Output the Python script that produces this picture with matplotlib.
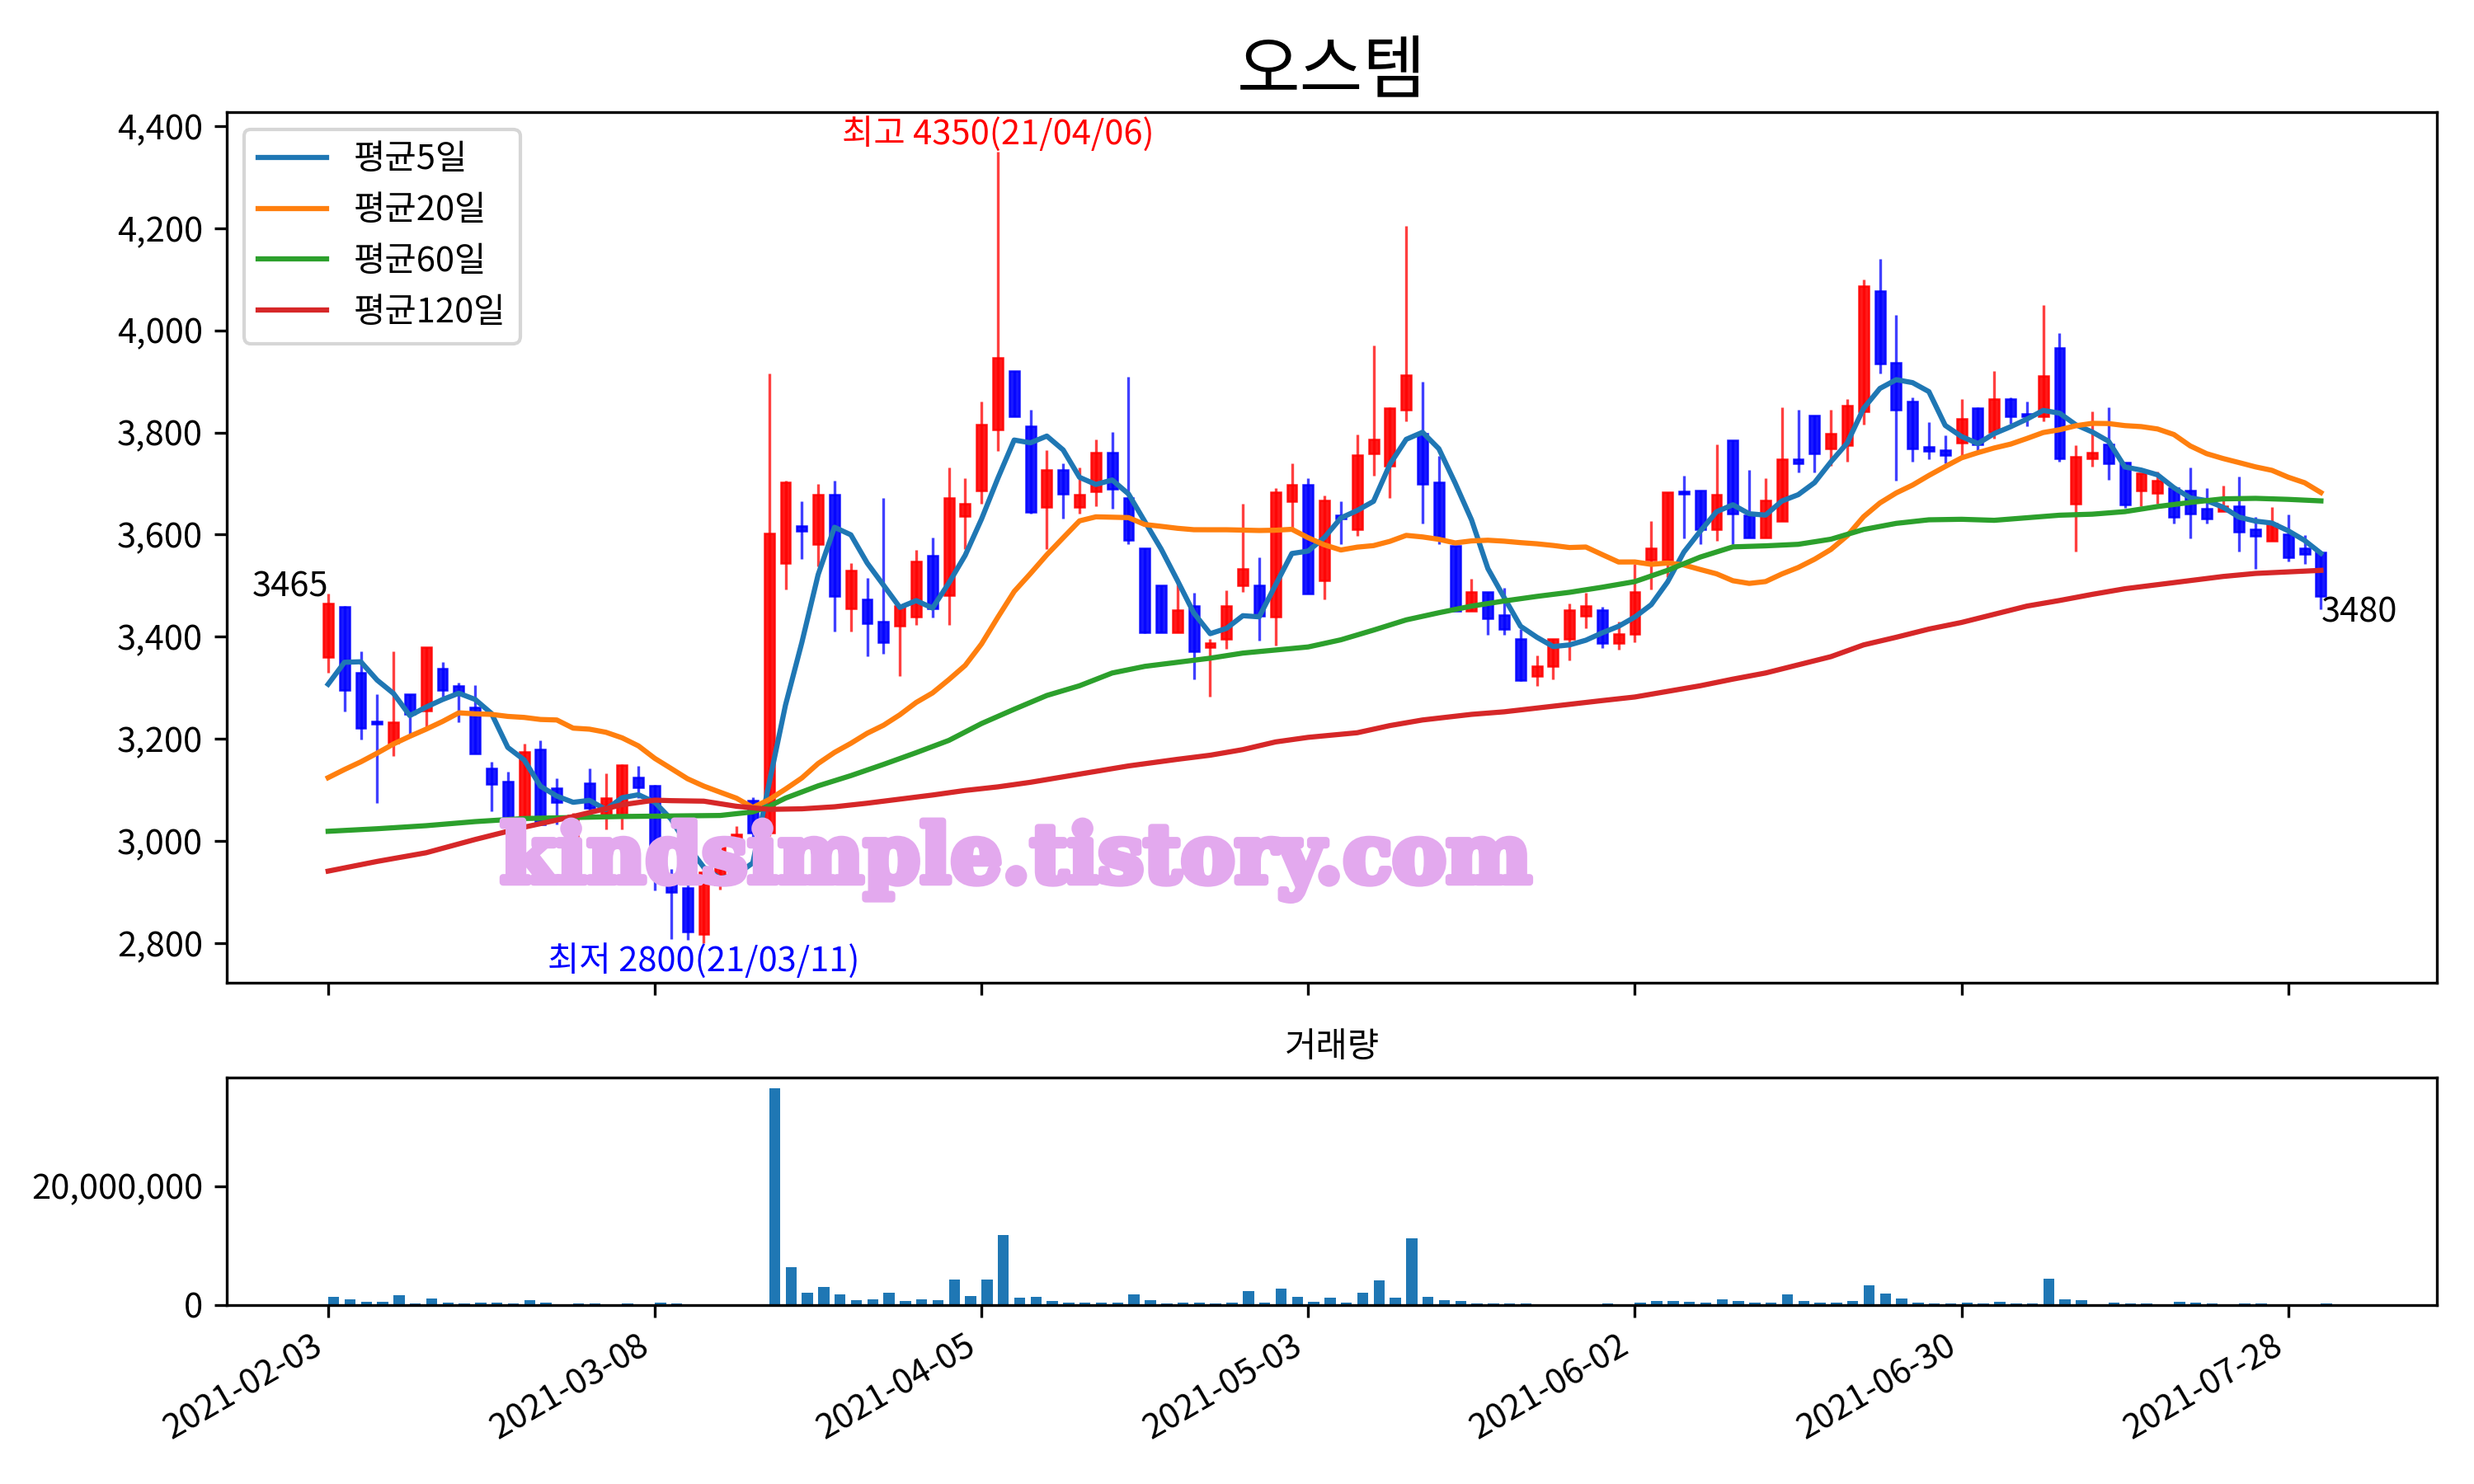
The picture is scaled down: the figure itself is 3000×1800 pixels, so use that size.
import pandas as pd
import matplotlib
matplotlib.use('Agg')
import matplotlib.pyplot as plt
import matplotlib.patheffects as pe
from matplotlib.ticker import FuncFormatter

plt.rcParams['font.family'] = ['Noto Sans CJK KR', 'DejaVu Sans']
plt.rcParams['axes.unicode_minus'] = False

# --- dados (índice = dia de pregão) ---
titulo = '오스템'
tick_labels = ['2021-02-03', '2021-03-08', '2021-04-05', '2021-05-03',
               '2021-06-02', '2021-06-30', '2021-07-28']

open_ = [3360, 3459, 3330, 3234, 3192, 3288, 3256, 3338, 3303, 3262,
         3143, 3117, 3046, 3179, 3103, 3000, 3113, 3052, 3052, 3124,
         3108, 2923, 2908, 2818, 2915, 3001, 3080, 3017, 3544, 3617,
         3582, 3679, 3456, 3473, 3429, 3422, 3440, 3558, 3482, 3636,
         3687, 3806, 3921, 3812, 3654, 3727, 3654, 3684, 3761, 3671,
         3573, 3501, 3409, 3461, 3380, 3396, 3501, 3501, 3440, 3665,
         3697, 3511, 3638, 3610, 3759, 3735, 3844, 3798, 3702, 3578,
         3450, 3487, 3442, 3396, 3323, 3342, 3396, 3441, 3452, 3387,
         3406, 3550, 3550, 3684, 3687, 3610, 3784, 3638, 3595, 3626,
         3748, 3833, 3769, 3775, 3841, 4077, 3936, 3861, 3772, 3766,
         3780, 3847, 3801, 3866, 3837, 3831, 3966, 3661, 3750, 3777,
         3741, 3686, 3682, 3691, 3686, 3651, 3646, 3656, 3611, 3587,
         3601, 3573, 3565]
high = [3485, 3460, 3372, 3287, 3372, 3288, 3380, 3351, 3310, 3306,
        3155, 3136, 3191, 3197, 3123, 3055, 3142, 3132, 3150, 3147,
        3110, 2945, 2920, 2950, 3000, 3029, 3085, 3915, 3705, 3665,
        3700, 3706, 3544, 3515, 3671, 3461, 3570, 3595, 3732, 3711,
        3860, 4350, 3921, 3845, 3766, 3740, 3731, 3786, 3801, 3909,
        3573, 3501, 3505, 3486, 3396, 3491, 3661, 3555, 3691, 3740,
        3710, 3676, 3665, 3796, 3970, 3850, 4204, 3900, 3754, 3578,
        3514, 3487, 3495, 3415, 3364, 3396, 3465, 3486, 3459, 3429,
        3543, 3626, 3683, 3715, 3687, 3777, 3784, 3726, 3710, 3850,
        3845, 3833, 3845, 3865, 4100, 4140, 4030, 3869, 3820, 3794,
        3865, 3850, 3920, 3869, 3860, 4050, 3995, 3775, 3841, 3850,
        3741, 3720, 3724, 3691, 3731, 3691, 3696, 3714, 3635, 3654,
        3640, 3599, 3565]
low = [3330, 3253, 3198, 3074, 3167, 3207, 3222, 3283, 3233, 3172,
       3058, 3046, 3046, 3033, 3033, 2995, 3057, 3022, 3022, 3084,
       2903, 2808, 2806, 2800, 2905, 2998, 3000, 3010, 3492, 3552,
       3537, 3411, 3411, 3362, 3367, 3323, 3423, 3437, 3423, 3571,
       3661, 3763, 3831, 3641, 3571, 3632, 3641, 3656, 3651, 3582,
       3407, 3409, 3409, 3317, 3283, 3377, 3487, 3392, 3382, 3613,
       3485, 3473, 3582, 3597, 3716, 3671, 3822, 3622, 3582, 3450,
       3450, 3403, 3403, 3313, 3304, 3317, 3353, 3417, 3378, 3374,
       3389, 3492, 3517, 3593, 3582, 3587, 3582, 3595, 3595, 3626,
       3721, 3721, 3734, 3742, 3815, 3915, 3705, 3742, 3747, 3739,
       3754, 3766, 3788, 3817, 3812, 3822, 3742, 3567, 3733, 3707,
       3652, 3656, 3661, 3622, 3592, 3622, 3646, 3567, 3533, 3587,
       3548, 3543, 3454]
close = [3465, 3296, 3222, 3229, 3233, 3248, 3379, 3296, 3291, 3172,
         3111, 3046, 3174, 3033, 3076, 3050, 3065, 3084, 3149, 3105,
         2976, 2900, 2822, 2939, 2995, 3013, 3017, 3603, 3703, 3607,
         3679, 3480, 3529, 3427, 3390, 3461, 3547, 3456, 3672, 3661,
         3816, 3946, 3831, 3645, 3727, 3680, 3678, 3761, 3689, 3590,
         3409, 3409, 3452, 3372, 3388, 3461, 3533, 3441, 3683, 3697,
         3485, 3667, 3631, 3756, 3787, 3847, 3912, 3700, 3595, 3450,
         3487, 3436, 3415, 3315, 3342, 3396, 3452, 3461, 3387, 3406,
         3487, 3573, 3683, 3680, 3610, 3678, 3641, 3595, 3667, 3748,
         3740, 3759, 3798, 3852, 4087, 3935, 3845, 3769, 3764, 3756,
         3826, 3777, 3866, 3831, 3831, 3911, 3750, 3752, 3761, 3740,
         3659, 3720, 3705, 3635, 3641, 3632, 3656, 3606, 3597, 3622,
         3556, 3562, 3480]
# fechamentos dos 4 pregões anteriores (para a média de 5 dias)
prev_close = [3081, 3217, 3409, 3363]

# volume em milhões de ações
volume_m = [1.44, 0.98, 0.58, 0.58, 1.67, 0.29, 1.15, 0.46, 0.29, 0.46,
            0.46, 0.29, 0.80, 0.46, 0.10, 0.29, 0.29, 0.06, 0.29, 0.10,
            0.46, 0.29, 0.10, 0.10, 0.10, 0.10, 0.10, 36.4, 6.34, 2.04,
            3.00, 1.76, 0.79, 0.93, 2.04, 0.65, 0.93, 0.79, 4.26, 1.48,
            4.26, 11.76, 1.20, 1.34, 0.65, 0.37, 0.37, 0.37, 0.37, 1.76,
            0.79, 0.23, 0.37, 0.37, 0.23, 0.37, 2.30, 0.37, 2.73, 1.34,
            0.51, 1.20, 0.37, 2.04, 4.12, 1.20, 11.2, 1.34, 0.79, 0.65,
            0.23, 0.23, 0.23, 0.23, 0.05, 0.05, 0.05, 0.05, 0.23, 0.05,
            0.37, 0.65, 0.65, 0.50, 0.37, 0.93, 0.65, 0.37, 0.37, 1.76,
            0.65, 0.37, 0.37, 0.65, 3.30, 1.90, 1.06, 0.37, 0.23, 0.23,
            0.37, 0.23, 0.50, 0.23, 0.23, 4.40, 0.93, 0.79, 0.05, 0.37,
            0.23, 0.23, 0.05, 0.50, 0.37, 0.23, 0.05, 0.23, 0.23, 0.05,
            0.05, 0.05, 0.23]

# média de 20 dias nos primeiros 19 pregões
ma20_head = [3124, 3140, 3155, 3172, 3190, 3205, 3219, 3234, 3251, 3249,
             3248, 3244, 3242, 3238, 3237, 3221, 3219, 3213, 3202]

# médias de 60 e 120 dias, lidas em alguns pregões
ma60_days = [0, 3, 6, 9, 12, 15, 18, 21, 24, 26, 27, 28, 30, 32, 34, 36,
             38, 40, 42, 44, 46, 48, 50, 52, 54, 56, 58, 60, 62, 64, 66,
             68, 70, 72, 74, 76, 78, 80, 82, 84, 86, 88, 90, 92, 94, 96,
             98, 100, 102, 104, 106, 108, 110, 112, 114, 116, 118, 120, 122]
ma60_vals = [3019, 3024, 3030, 3038, 3044, 3046, 3048, 3049, 3050, 3057,
             3068, 3084, 3108, 3128, 3150, 3173, 3197, 3230, 3258, 3285,
             3304, 3329, 3342, 3350, 3358, 3368, 3374, 3380, 3394, 3413,
             3433, 3447, 3460, 3470, 3479, 3487, 3497, 3508, 3530, 3556,
             3576, 3578, 3581, 3591, 3610, 3622, 3629, 3630, 3628, 3633,
             3638, 3640, 3645, 3655, 3663, 3670, 3671, 3669, 3666]
ma120_days = [0, 3, 6, 9, 12, 15, 18, 20, 21, 23, 25, 27, 29, 31, 33, 35,
              37, 39, 41, 43, 46, 49, 52, 54, 56, 58, 60, 63, 65, 67, 70,
              72, 75, 78, 80, 82, 84, 86, 88, 90, 92, 94, 96, 98, 100, 102,
              104, 106, 108, 110, 112, 114, 116, 118, 120, 122]
ma120_vals = [2941, 2960, 2977, 3003, 3027, 3048, 3071, 3080, 3079, 3078,
              3068, 3062, 3063, 3067, 3074, 3082, 3090, 3099, 3106, 3115,
              3131, 3147, 3160, 3168, 3179, 3194, 3203, 3212, 3226, 3237,
              3248, 3253, 3264, 3275, 3282, 3293, 3304, 3317, 3329, 3345,
              3361, 3384, 3399, 3415, 3428, 3444, 3460, 3471, 3483, 3494,
              3502, 3510, 3518, 3524, 3527, 3530]

df = pd.DataFrame({'Open': open_, 'High': high, 'Low': low,
                   'Close': close, 'Volume': [v * 1e6 for v in volume_m]})
x = list(range(len(df)))

# médias móveis
ma5 = pd.Series(prev_close + close).rolling(5).mean().iloc[4:].values
ma20 = pd.Series(close).rolling(20).mean()
ma20.iloc[:19] = ma20_head

# --- GRÁFICO ---
fig = plt.figure(figsize=(10, 6), dpi=300)
ax = fig.add_axes([0.0917, 0.3378, 0.8933, 0.5867])
ax2 = fig.add_axes([0.0917, 0.1206, 0.8933, 0.1531], sharex=ax)

sobe = df['Close'] >= df['Open']
cores = ['red' if s else 'blue' for s in sobe]
base = df[['Open', 'Close']].min(axis=1)
corpo = (df['Close'] - df['Open']).abs()

ax.vlines(x, df['Low'], df['High'], colors=cores, linewidth=0.8, alpha=0.75, zorder=2)
ax.bar(x, corpo, bottom=base, width=0.6, color=cores, edgecolor=cores,
       linewidth=0.6, alpha=0.9, zorder=2)

ax.plot(x, ma5, label='평균5일', zorder=3)
ax.plot(x, ma20, label='평균20일', zorder=3)
ax.plot(ma60_days, ma60_vals, label='평균60일', zorder=3)
ax.plot(ma120_days, ma120_vals, label='평균120일', zorder=3)

# máxima e mínima do período
i_max = df['High'].idxmax()
i_min = df['Low'].idxmin()
ax.text(i_max, df['High'][i_max], f"최고 {df['High'][i_max]}(21/04/06)",
        color='red', ha='center', va='bottom')
ax.text(i_min, df['Low'][i_min], f"최저 {df['Low'][i_min]}(21/03/11)",
        color='blue', ha='center', va='top')
ax.text(0, close[0], str(close[0]), ha='right', va='bottom')
ax.text(x[-1], close[-1], str(close[-1]), ha='left', va='top')

# marca d'água
ax.text(0.357, 0.14, 'kindsimple.tistory.com', transform=ax.transAxes,
        fontsize=23.5, family='DejaVu Serif', fontweight='bold',
        color='#E3A9EE', ha='center', va='center', zorder=10,
        path_effects=[pe.withStroke(linewidth=2, foreground='#E3A9EE')])

pad = (df['High'].max() - df['Low'].min()) * 0.05
ax.set_ylim(df['Low'].min() - pad, df['High'].max() + pad)
ax.set_xlim(-6.2, 129.1)
ax.set_yticks(range(2800, 4401, 200))
ax.yaxis.set_major_formatter(FuncFormatter(lambda v, p: f'{int(v):,}'))
ax.set_title(titulo, fontsize=20)
ax.legend(loc='upper left')
ax.tick_params(labelbottom=False)

# volume
ax2.bar(x, df['Volume'], width=0.68, align='edge', color='#1f77b4')
ax2.set_ylim(0, df['Volume'].max() * 1.05)
ax2.set_yticks([0, 20000000])
ax2.yaxis.set_major_formatter(FuncFormatter(lambda v, p: f'{int(v):,}'))
ax2.set_title('거래량', fontsize=10)
ax2.set_xticks(range(0, 121, 20))
ax2.set_xticklabels(tick_labels, rotation=30, ha='right')

plt.savefig('out.png', dpi=300)
